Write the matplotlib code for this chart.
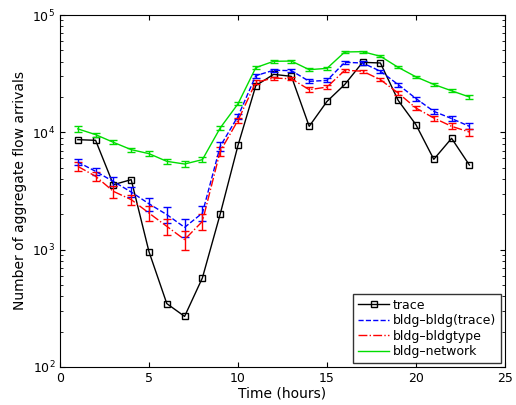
import matplotlib
matplotlib.use("Agg")
import matplotlib.pyplot as plt
from matplotlib.lines import Line2D
import numpy as np

hours = np.arange(1, 24)

trace = [8660, 8550, 3580, 3950, 960, 347, 270, 575, 2010, 7740, 25000, 31200, 30000,
         11250, 18350, 25600, 39500, 39000, 18700, 11600, 5890, 8890, 5260]
bldg_trace = [5590, 4650, 3810, 3100, 2460, 1990, 1550, 2050, 7600, 13700, 30400, 33800, 33550,
              27200, 27700, 39500, 39000, 33200, 25500, 19400, 15100, 13100, 11250]
bldg_type = [5130, 4220, 3140, 2670, 2050, 1580, 1220, 1740, 6890, 12650, 26700, 29000, 28600,
             23100, 24300, 33800, 33200, 28100, 21600, 16100, 13250, 11250, 10060]
bldg_net = [10700, 9560, 8220, 7120, 6580, 5660, 5370, 5850, 10900, 17500, 35600, 40300, 40500,
            34200, 35100, 48400, 48700, 44500, 35800, 29700, 25600, 22600, 20000]

# relative error bar half-widths
err_trace = [0.06, 0.06, 0.09, 0.10, 0.13, 0.16, 0.17, 0.15, 0.08, 0.05, 0.04, 0.03, 0.03,
             0.04, 0.04, 0.03, 0.03, 0.03, 0.04, 0.04, 0.05, 0.05, 0.06]
err_type = [0.08, 0.08, 0.12, 0.10, 0.14, 0.16, 0.19, 0.15, 0.08, 0.05, 0.04, 0.03, 0.03,
            0.05, 0.04, 0.03, 0.03, 0.03, 0.04, 0.04, 0.05, 0.06, 0.07]
err_net = [0.06, 0.04, 0.04, 0.04, 0.05, 0.05, 0.06, 0.05, 0.04, 0.03, 0.03, 0.03, 0.03,
           0.03, 0.03, 0.02, 0.02, 0.02, 0.02, 0.02, 0.03, 0.03, 0.04]

fig = plt.figure(figsize=(5.16, 4.05), dpi=100)
ax = fig.add_axes([60/516, 38/405, 445/516, 352/405])

green = '#00dd00'
ax.plot(hours, trace, color='k', marker='s', mfc='none', ms=5, lw=1)
ax.errorbar(hours, bldg_trace, yerr=np.array(bldg_trace)*np.array(err_trace), color='b',
            ls='--', lw=1, capsize=3)
ax.errorbar(hours, bldg_type, yerr=np.array(bldg_type)*np.array(err_type), color='r',
            ls='-.', lw=1, capsize=3)
ax.errorbar(hours, bldg_net, yerr=np.array(bldg_net)*np.array(err_net), color=green,
            ls='-', lw=1, capsize=3)

ax.set_yscale('log')
ax.set_xlim(0, 25)
ax.set_ylim(100, 1e5)
ax.tick_params(which='both', direction='in', top=True, right=True, labelsize=9)
ax.set_xlabel('Time (hours)', fontsize=10, labelpad=1)
ax.set_ylabel('Number of aggregate flow arrivals', fontsize=10)

handles = [
    Line2D([], [], color='k', marker='s', mfc='none', ms=5, lw=1),
    Line2D([], [], color='b', ls='--', lw=1),
    Line2D([], [], color='r', ls='-.', lw=1),
    Line2D([], [], color=green, lw=1),
]
labels = ['trace', 'bldg\u2013bldg(trace)', 'bldg\u2013bldgtype', 'bldg\u2013network']
leg = ax.legend(handles, labels, loc='lower right', fontsize=9, fancybox=False, edgecolor='k',
                borderaxespad=0.3, handlelength=2.5, labelspacing=0.2, handletextpad=0.3)
leg.get_frame().set_linewidth(1)

fig.savefig('out.png')
